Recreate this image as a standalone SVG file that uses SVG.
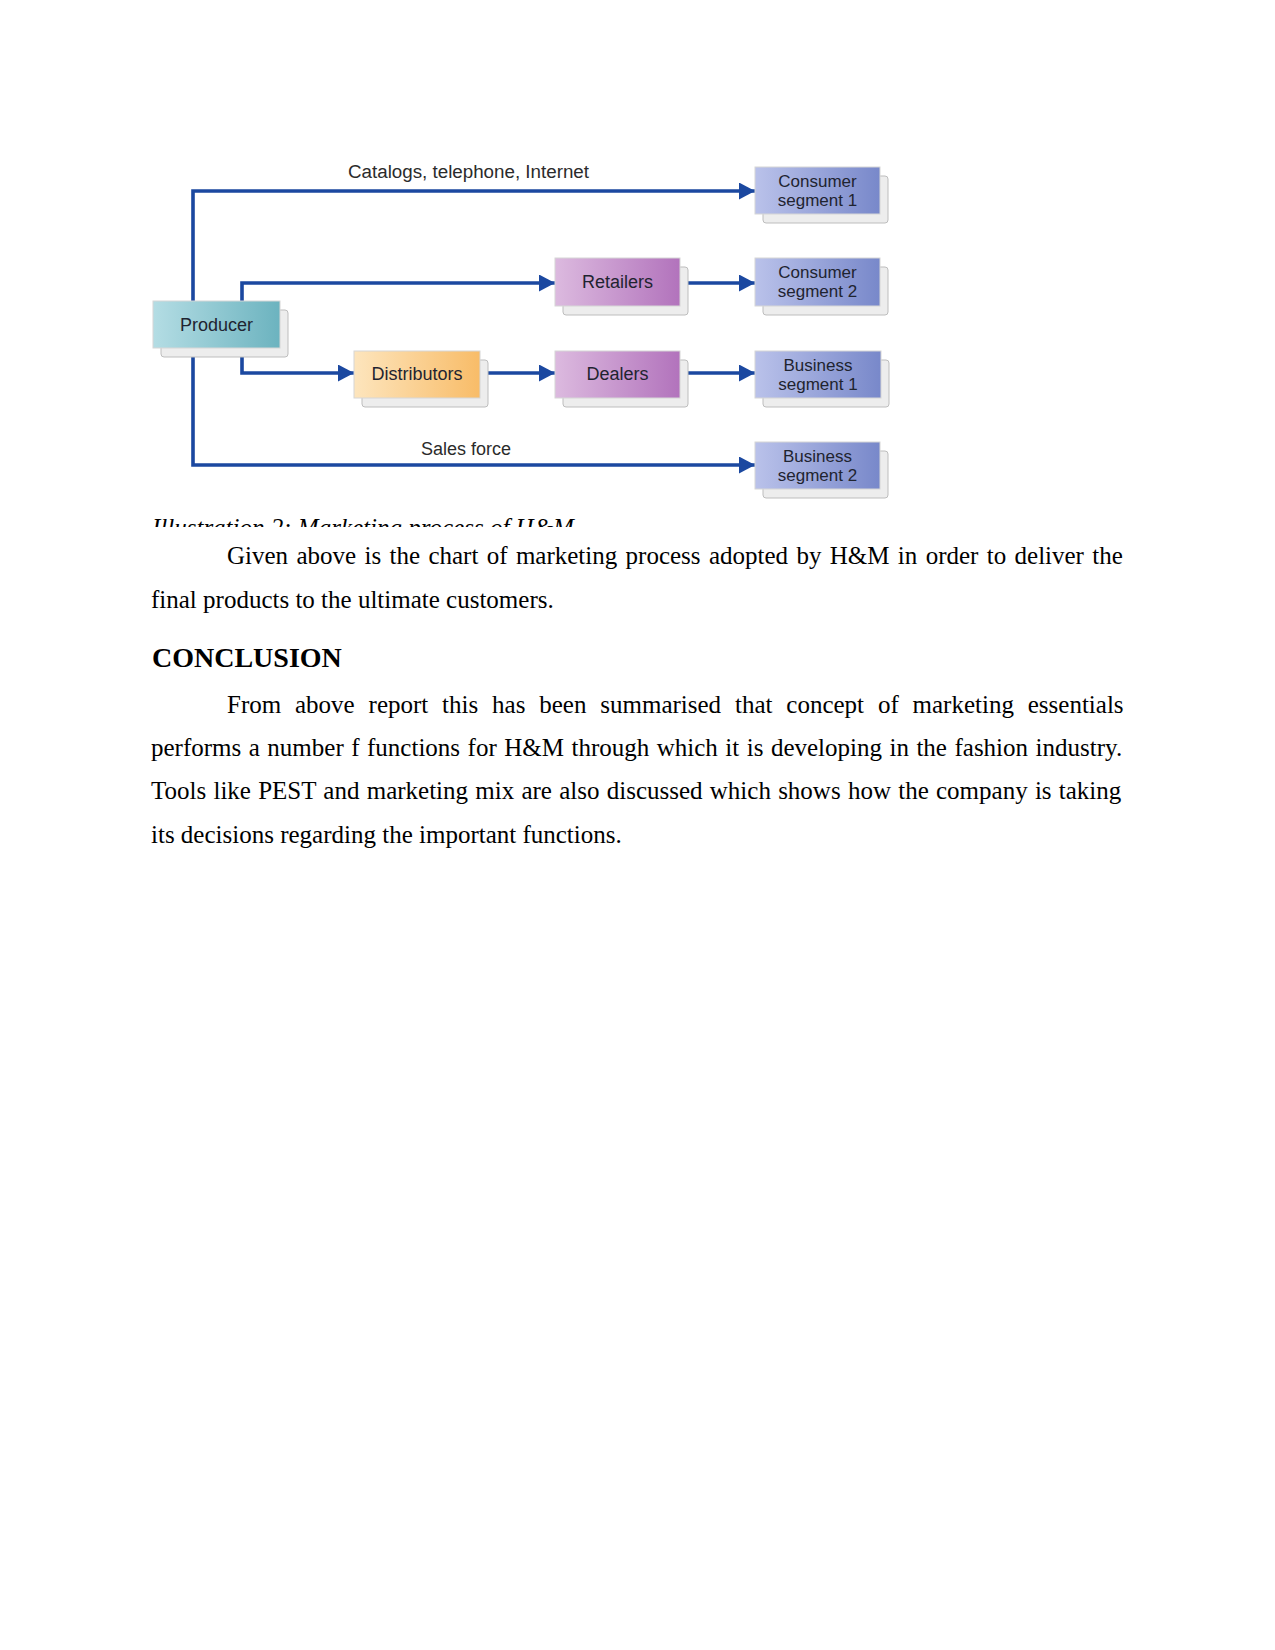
<svg xmlns="http://www.w3.org/2000/svg" width="1275" height="1650" viewBox="0 0 1275 1650">
  <style>
    .lbl { font-family: "Liberation Sans", Arial, sans-serif; font-size: 18px; fill: #2b2b2b; }
    .box-t { font-family: "Liberation Sans", Arial, sans-serif; font-size: 18px; fill: #1f2430; text-anchor: middle; }
    .box-t2 { font-family: "Liberation Sans", Arial, sans-serif; font-size: 17px; fill: #1f2430; text-anchor: middle; }
    .shadow { fill: #ededed; stroke: #bdbdbd; stroke-width: 1; filter: url(#soft); }
    .box { stroke: #d6d6d6; stroke-width: 1; }
    .conn { fill: none; stroke: #1b48a0; stroke-width: 3.6; marker-end: url(#arr); }
    .body { font-family: "Liberation Serif", "Times New Roman", serif; font-size: 25px; fill: #000; }
    .cap { font-family: "Liberation Serif", "Times New Roman", serif; font-size: 25px; font-style: italic; fill: #000; }
    .head { font-family: "Liberation Serif", "Times New Roman", serif; font-size: 28px; font-weight: bold; fill: #000; }
  </style>
  <defs>
    <filter id="soft" x="-10%" y="-10%" width="120%" height="130%">
      <feGaussianBlur stdDeviation="0.7"/>
    </filter>
    <linearGradient id="gTeal" x1="0" y1="0" x2="1" y2="0">
      <stop offset="0" stop-color="#b4dde4"/>
      <stop offset="1" stop-color="#6cb3bf"/>
    </linearGradient>
    <linearGradient id="gPurple" x1="0" y1="0" x2="1" y2="0">
      <stop offset="0" stop-color="#dcbadf"/>
      <stop offset="1" stop-color="#b273bc"/>
    </linearGradient>
    <linearGradient id="gOrange" x1="0" y1="0" x2="1" y2="0">
      <stop offset="0" stop-color="#fde5bd"/>
      <stop offset="1" stop-color="#f8bc68"/>
    </linearGradient>
    <linearGradient id="gBlue" x1="0" y1="0" x2="1" y2="0">
      <stop offset="0" stop-color="#bac2ea"/>
      <stop offset="1" stop-color="#7888ca"/>
    </linearGradient>
    <marker id="arr" markerUnits="userSpaceOnUse" markerWidth="17" markerHeight="18" refX="16" refY="8.5" orient="auto">
      <path d="M0,0 L16,8.5 L0,17 z" fill="#1b48a0"/>
    </marker>
    <clipPath id="capClip">
      <rect x="0" y="500" width="1275" height="27"/>
    </clipPath>
  </defs>

  <!-- connectors -->
  <g id="connectors">
    <path class="conn" d="M193,301 V191 H755"/>
    <path class="conn" d="M242,301 V283 H555"/>
    <path class="conn" d="M680,283 H755"/>
    <path class="conn" d="M242,349 V373 H354"/>
    <path class="conn" d="M480,373 H555"/>
    <path class="conn" d="M680,373 H755"/>
    <path class="conn" d="M193,349 V465 H755"/>
  </g>
  <text class="lbl" x="348" y="178" textLength="241" lengthAdjust="spacingAndGlyphs">Catalogs, telephone, Internet</text>
  <text class="lbl" x="421" y="455">Sales force</text>

  <g id="producer">
    <rect class="shadow" x="161" y="310" width="127" height="47" rx="3"/>
    <rect class="box" x="153" y="301" width="127" height="47" fill="url(#gTeal)"/>
    <text class="box-t" x="216.5" y="330.5">Producer</text>
  </g>
  <g id="retailers">
    <rect class="shadow" x="563" y="267" width="125" height="48" rx="3"/>
    <rect class="box" x="555" y="258" width="125" height="48" fill="url(#gPurple)"/>
    <text class="box-t" x="617.5" y="288">Retailers</text>
  </g>
  <g id="distributors">
    <rect class="shadow" x="362" y="360" width="126" height="47" rx="3"/>
    <rect class="box" x="354" y="351" width="126" height="47" fill="url(#gOrange)"/>
    <text class="box-t" x="417" y="380">Distributors</text>
  </g>
  <g id="dealers">
    <rect class="shadow" x="563" y="360" width="125" height="47" rx="3"/>
    <rect class="box" x="555" y="351" width="125" height="47" fill="url(#gPurple)"/>
    <text class="box-t" x="617.5" y="380">Dealers</text>
  </g>
  <g id="consumer-segment-1">
    <rect class="shadow" x="763" y="176" width="125" height="47" rx="3"/>
    <rect class="box" x="755" y="167" width="125" height="47" fill="url(#gBlue)"/>
    <text class="box-t2" x="817.5" y="186.5">Consumer</text>
    <text class="box-t2" x="817.5" y="205.5">segment 1</text>
  </g>
  <g id="consumer-segment-2">
    <rect class="shadow" x="763" y="267" width="125" height="48" rx="3"/>
    <rect class="box" x="755" y="258" width="125" height="48" fill="url(#gBlue)"/>
    <text class="box-t2" x="817.5" y="278">Consumer</text>
    <text class="box-t2" x="817.5" y="297">segment 2</text>
  </g>
  <g id="business-segment-1">
    <rect class="shadow" x="763" y="360" width="126" height="47" rx="3"/>
    <rect class="box" x="755" y="351" width="126" height="47" fill="url(#gBlue)"/>
    <text class="box-t2" x="818" y="370.5">Business</text>
    <text class="box-t2" x="818" y="389.5">segment 1</text>
  </g>
  <g id="business-segment-2">
    <rect class="shadow" x="763" y="451" width="125" height="47" rx="3"/>
    <rect class="box" x="755" y="442" width="125" height="47" fill="url(#gBlue)"/>
    <text class="box-t2" x="817.5" y="461.5">Business</text>
    <text class="box-t2" x="817.5" y="480.5">segment 2</text>
  </g>

  <text class="cap" x="152" y="535.5" clip-path="url(#capClip)">Illustration 2: Marketing process of H&amp;M</text>

  <text class="body" x="227" y="564" word-spacing="2.1">Given above is the chart of marketing process adopted by H&amp;M in order to deliver the</text>
  <text class="body" x="151" y="608">final products to the ultimate customers.</text>
  <text class="head" x="152" y="667">CONCLUSION</text>
  <text class="body" x="227" y="713" word-spacing="7.6">From above report this has been summarised that concept of marketing essentials</text>
  <text class="body" x="151" y="756" word-spacing="1.25">performs a number f functions for H&amp;M through which it is developing in the fashion industry.</text>
  <text class="body" x="151" y="799" word-spacing="1">Tools like PEST and marketing mix are also discussed which shows how the company is taking</text>
  <text class="body" x="151" y="843">its decisions regarding the important functions.</text>
</svg>
